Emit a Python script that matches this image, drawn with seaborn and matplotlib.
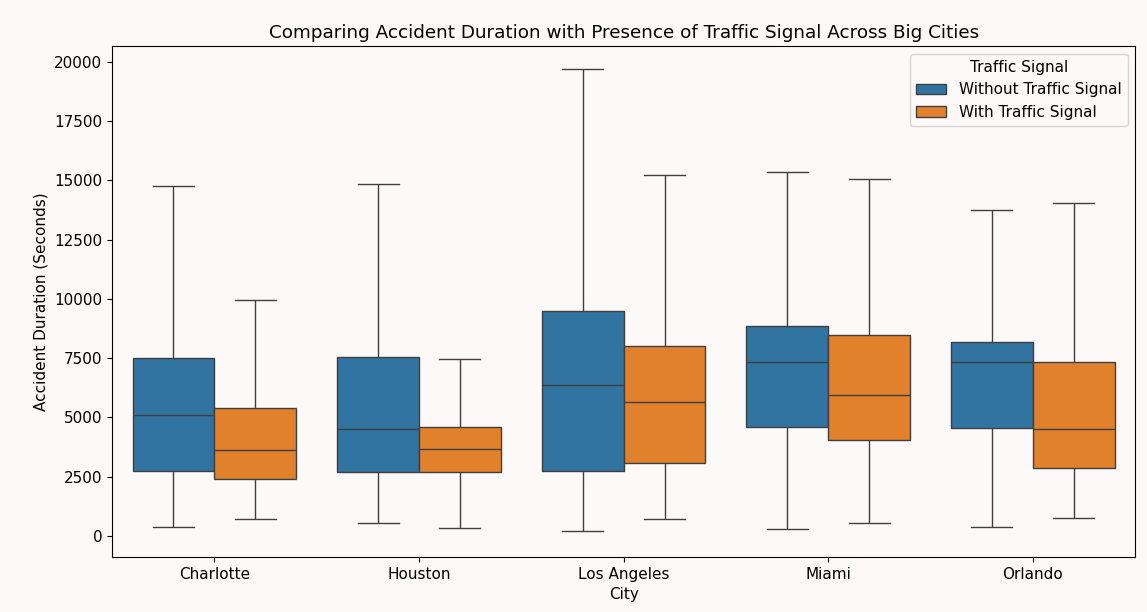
import numpy as np
import pandas as pd
import matplotlib
matplotlib.use("Agg")
import matplotlib.pyplot as plt
import seaborn as sns

cities = ["Charlotte", "Houston", "Los Angeles", "Miami", "Orlando"]
groups = ["Without Traffic Signal", "With Traffic Signal"]

# five-number summaries (min, q1, median, q3, max) per city
without_min = [380, 530, 200, 300, 380]
without_q1 = [2740, 2700, 2740, 4600, 4560]
without_med = [5100, 4500, 6350, 7350, 7350]
without_q3 = [7500, 7550, 9500, 8850, 8200]
without_max = [14750, 14850, 19700, 15350, 13750]

with_min = [720, 340, 720, 530, 760]
with_q1 = [2400, 2700, 3080, 4050, 2850]
with_med = [3630, 3680, 5650, 5950, 4530]
with_q3 = [5400, 4580, 8000, 8480, 7320]
with_max = [9950, 7450, 15250, 15050, 14030]

rows = []
for i, c in enumerate(cities):
    for g, arr in ((groups[0], (without_min, without_q1, without_med, without_q3, without_max)),
                   (groups[1], (with_min, with_q1, with_med, with_q3, with_max))):
        for a in arr:
            rows.append({"City": c, "Traffic Signal": g, "Duration": a[i]})
df = pd.DataFrame(rows)

plt.rcParams.update({"font.size": 11, "axes.titlesize": 13.2, "axes.labelsize": 11,
                     "xtick.labelsize": 11, "ytick.labelsize": 11,
                     "legend.fontsize": 11, "legend.title_fontsize": 11})

bg = "#fdf9f8"
fig = plt.figure(figsize=(11.47, 6.12), dpi=100, facecolor=bg)
ax = fig.add_axes([0.0977, 0.09, 0.892, 0.835])
ax.set_facecolor(bg)

sns.boxplot(data=df, x="City", y="Duration", hue="Traffic Signal",
            hue_order=groups, order=cities, whis=(0, 100), showfliers=False,
            palette=["#1f77b4", "#ff7f0e"], ax=ax)

ax.set_title("Comparing Accident Duration with Presence of Traffic Signal Across Big Cities")
ax.set_xlabel("City")
ax.set_ylabel("Accident Duration (Seconds)")
ax.set_ylim(-890, 20680)
ax.set_yticks(np.arange(0, 20001, 2500))
leg = ax.legend(title="Traffic Signal", loc="upper right")
leg.get_frame().set_facecolor(bg)

fig.savefig("out.png", dpi=100, facecolor=bg)
